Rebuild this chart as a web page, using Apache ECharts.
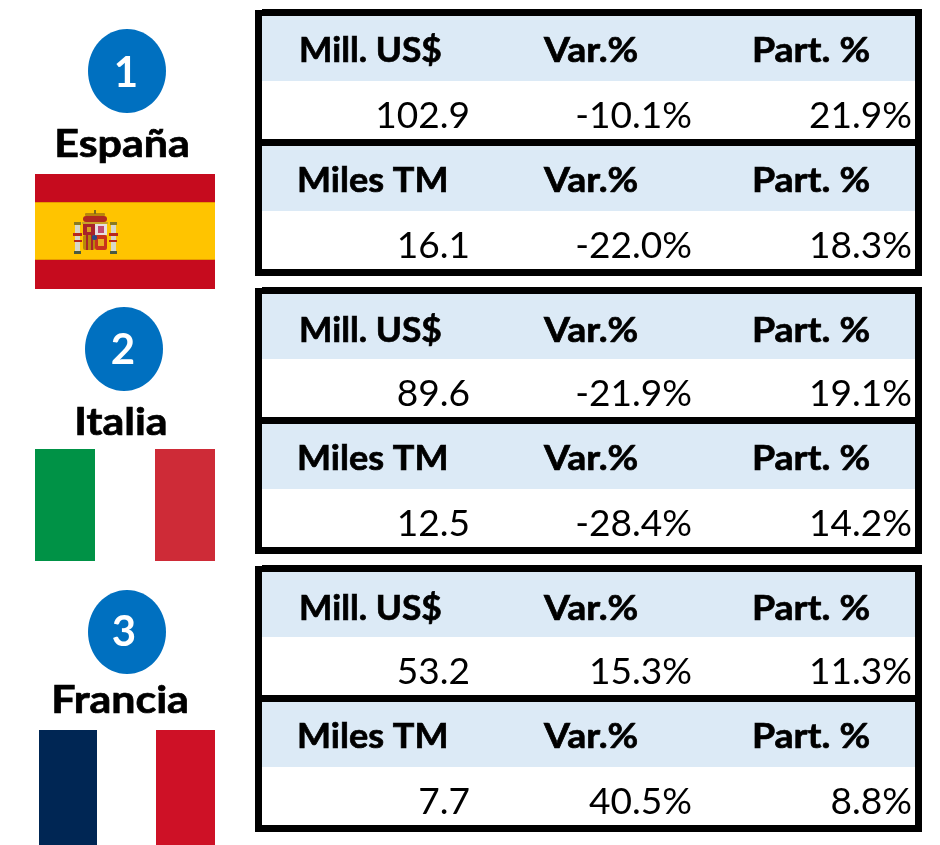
<!DOCTYPE html>
<html>
<head>
<meta charset="utf-8">
<style>
  html, body { margin: 0; padding: 0; background: #fff; }
  #main { width: 940px; height: 845px; }
</style>
<script src="https://cdn.jsdelivr.net/npm/echarts@6/dist/echarts.min.js"></script>
</head>
<body>
<div id="main"></div>
<script>
// datos de cada pais
const countries = ['España', 'Italia', 'Francia'];
const ranks = ['1', '2', '3'];
const usdLabel = 'Mill. US$';
const tonLabel = 'Miles TM';
const varLabel = 'Var.%';
const partLabel = 'Part. %';
const usdValues = ['102.9', '89.6', '53.2'];
const usdVar = ['-10.1%', '-21.9%', '15.3%'];
const usdPart = ['21.9%', '19.1%', '11.3%'];
const tonValues = ['16.1', '12.5', '7.7'];
const tonVar = ['-22.0%', '-28.4%', '40.5%'];
const tonPart = ['18.3%', '14.2%', '8.8%'];

const FONT = 'Lato, "Noto Sans", sans-serif';
const BLUE = '#0070c0';
const HEAD = '#dceaf6';

// posicion vertical de cada bloque
const tableTop = [9, 287, 565];
const headShift = [0, 2, 2];
const circleX = [127, 124, 127];
const circleY = [71, 349, 632];
const rankX = [126, 123, 124];
const rankY = [73, 350, 632];
const nameX = [122, 121, 120];
const nameY = [145, 423, 701];

let els = [];

function rect(x, y, w, h, fill, r) {
  els.push({ type: 'rect', shape: { x: x, y: y, width: w, height: h, r: r || 0 }, style: { fill: fill } });
}
function text(x, y, str, size, weight, color, align, sx, heavy) {
  els.push({
    type: 'text', x: x, y: y, scaleX: sx || 1,
    style: {
      text: str, fill: color, font: weight + ' ' + size + 'px ' + FONT,
      textAlign: align, textVerticalAlign: 'middle',
      stroke: heavy ? color : null, lineWidth: heavy ? 0.7 : 0
    }
  });
}

function drawRow(top, label, labelX, labelScale, shift, val, vr, part) {
  rect(262, top, 654, 65, HEAD);
  const y = top + 35 + shift;
  text(labelX, y, label, 35, 'bold', '#000', 'left', labelScale, true);
  text(544, y, varLabel, 35, 'bold', '#000', 'left', 1.07, true);
  text(752, y, partLabel, 35, 'bold', '#000', 'left', 1.07, true);
  text(470, top + 100, val, 36, 'normal', '#000', 'right', 1.03);
  text(692, top + 100, vr, 36, 'normal', '#000', 'right', 1.03);
  text(912, top + 100, part, 36, 'normal', '#000', 'right', 1.03);
}

function drawTable(i) {
  const t = tableTop[i];
  drawRow(t + 7, usdLabel, 299, 1.01, headShift[i], usdValues[i], usdVar[i], usdPart[i]);
  drawRow(t + 137, tonLabel, 297, 1.03, 0, tonValues[i], tonVar[i], tonPart[i]);
  // bordes
  rect(255, t + 1, 7, 266, '#000');
  rect(262, t, 660, 7, '#000');
  rect(915, t, 7, 267, '#000');
  rect(262, t + 130, 660, 7, '#000');
  rect(262, t + 260, 660, 7, '#000');
}

function drawLeft(i) {
  els.push({
    type: 'ellipse',
    shape: { cx: circleX[i], cy: circleY[i], rx: 39, ry: 42 },
    style: { fill: BLUE }
  });
  text(rankX[i], rankY[i], ranks[i], 42, 'bold', '#fff', 'center');
  text(nameX[i], nameY[i], countries[i], 38, 'bold', '#000', 'center', 1.13, true);
}

[0, 1, 2].forEach(i => { drawTable(i); drawLeft(i); });

// bandera España
rect(35, 174, 180, 115, '#c60b1e');
rect(35, 202, 180, 58, '#ffc400');
rect(35, 202, 180, 1, '#e89a00');
rect(35, 259, 180, 1, '#e89a00');
// escudo
rect(83, 216, 24, 6, '#b02a20', 3);
rect(85, 213, 20, 3, '#b8860b', 1);
rect(94, 210, 2, 4, '#7a6a20');
rect(82, 222, 26, 2, '#c9a227');
rect(83, 224, 12, 11, '#a8242a');
rect(87, 227, 4, 5, '#d8a020');
rect(95, 224, 12, 11, '#e6dfe0');
rect(98, 226, 6, 7, '#c04a70');
rect(83, 235, 12, 15, '#b8860b', 2);
rect(86, 235, 2, 15, '#a8242a');
rect(91, 235, 2, 15, '#a8242a');
rect(95, 235, 12, 15, '#c8341c', 2);
rect(98, 239, 6, 7, '#e8b020');
rect(92, 235, 5, 5, '#2a4a8a', 2);
rect(75, 223, 5, 30, '#d8d8c8');
rect(111, 223, 5, 30, '#d8d8c8');
rect(74, 222, 7, 3, '#8a7a20');
rect(110, 222, 7, 3, '#8a7a20');
rect(74, 251, 7, 3, '#4a5a40');
rect(110, 251, 7, 3, '#4a5a40');
rect(73, 233, 9, 3, '#b8281c');
rect(109, 233, 9, 3, '#b8281c');
rect(74, 240, 8, 2, '#b8281c');
rect(109, 240, 8, 2, '#b8281c');

// bandera Italia
rect(35, 449, 60, 112, '#009246');
rect(155, 449, 60, 112, '#ce2b37');

// bandera Francia
rect(39, 730, 58, 115, '#002654');
rect(156, 730, 59, 115, '#ce1126');

const chart = echarts.init(document.getElementById('main'));
chart.setOption({
  animation: false,
  backgroundColor: '#fff',
  graphic: { elements: els }
});
</script>
</body>
</html>
